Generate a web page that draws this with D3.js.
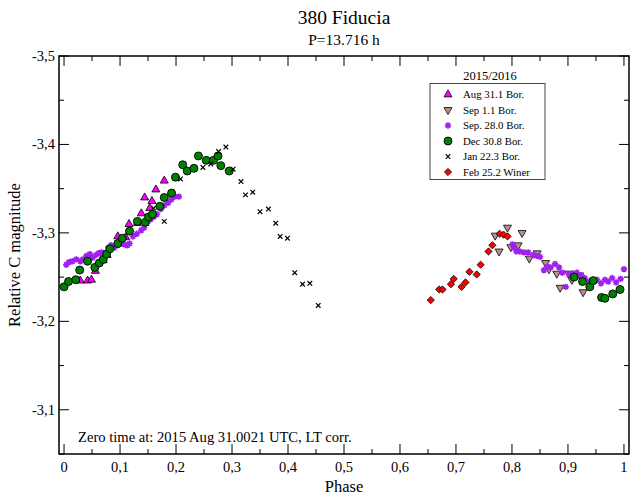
<!DOCTYPE html>
<html>
<head>
<meta charset="utf-8">
<script src="https://cdn.jsdelivr.net/npm/d3@7"></script>
<style>
  body { margin: 0; background: #fff; }
  svg { font-family: "Liberation Serif", "DejaVu Serif", serif; }
</style>
</head>
<body>
<div id="chart"></div>
<script>
// phase / relative magnitude pairs
const aug31 = [[0.029,-3.246],[0.042,-3.246],[0.049,-3.247],[0.056,-3.257],[0.070,-3.269],[0.077,-3.275],
  [0.096,-3.296],[0.110,-3.295],[0.116,-3.310],[0.131,-3.311],[0.138,-3.322],[0.144,-3.340],[0.153,-3.328],
  [0.157,-3.336],[0.164,-3.349],[0.179,-3.359]];
const sep1 = [[0.770,-3.297],[0.777,-3.279],[0.792,-3.306],[0.798,-3.284],[0.811,-3.286],[0.818,-3.300],
  [0.831,-3.271],[0.845,-3.277],[0.860,-3.266],[0.866,-3.259],[0.880,-3.254],[0.886,-3.238],[0.901,-3.254],
  [0.907,-3.247],[0.921,-3.252],[0.927,-3.233]];
const sep28 = [[0.004,-3.264],[0.009,-3.267],[0.015,-3.268],[0.022,-3.270],[0.029,-3.268],[0.034,-3.270],
  [0.040,-3.274],[0.046,-3.276],[0.051,-3.272],[0.057,-3.275],[0.062,-3.277],[0.067,-3.278],[0.072,-3.277],
  [0.079,-3.283],[0.084,-3.286],[0.089,-3.283],[0.095,-3.286],[0.101,-3.288],[0.107,-3.287],[0.113,-3.286],
  [0.117,-3.288],[0.123,-3.296],[0.130,-3.299],[0.138,-3.303],[0.143,-3.306],[0.148,-3.311],[0.154,-3.315],
  [0.160,-3.318],[0.166,-3.321],[0.173,-3.327],[0.179,-3.331],[0.186,-3.334],[0.192,-3.338],[0.198,-3.341],
  [0.205,-3.341],
  [0.801,-3.287],[0.804,-3.283],[0.808,-3.279],[0.814,-3.279],[0.821,-3.278],[0.829,-3.278],[0.838,-3.275],
  [0.844,-3.274],[0.850,-3.273],[0.857,-3.258],[0.863,-3.262],[0.869,-3.261],[0.877,-3.265],[0.884,-3.261],
  [0.890,-3.255],[0.896,-3.239],[0.902,-3.253],[0.909,-3.254],[0.916,-3.255],[0.923,-3.252],[0.930,-3.249],
  [0.938,-3.245],[0.945,-3.247],[0.952,-3.247],[0.959,-3.243],[0.966,-3.247],[0.972,-3.245],[0.979,-3.249],
  [0.986,-3.244],[0.994,-3.248],[1.000,-3.259]];
const dec30 = [[0.000,-3.239],[0.008,-3.245],[0.021,-3.247],[0.028,-3.258],[0.042,-3.268],[0.055,-3.261],
  [0.063,-3.266],[0.070,-3.270],[0.076,-3.276],[0.082,-3.282],[0.096,-3.288],[0.104,-3.294],[0.117,-3.302],
  [0.131,-3.313],[0.145,-3.312],[0.151,-3.318],[0.158,-3.321],[0.171,-3.330],[0.179,-3.340],[0.192,-3.345],
  [0.199,-3.363],[0.212,-3.377],[0.220,-3.370],[0.232,-3.373],[0.240,-3.387],[0.254,-3.382],[0.267,-3.382],
  [0.275,-3.387],[0.280,-3.376],[0.295,-3.370],
  [0.911,-3.250],[0.926,-3.245],[0.939,-3.239],[0.945,-3.246],[0.960,-3.227],[0.966,-3.226],[0.980,-3.231],
  [0.993,-3.236]];
const jan22 = [[0.160,-3.328],[0.179,-3.313],[0.208,-3.361],[0.248,-3.374],[0.262,-3.378],[0.276,-3.392],
  [0.289,-3.397],[0.302,-3.372],[0.316,-3.358],[0.324,-3.343],[0.337,-3.346],[0.350,-3.324],[0.365,-3.327],
  [0.378,-3.311],[0.386,-3.296],[0.399,-3.294],[0.412,-3.255],[0.426,-3.242],[0.439,-3.243],[0.454,-3.218]];
const feb25 = [[0.655,-3.224],[0.670,-3.236],[0.676,-3.236],[0.691,-3.242],[0.696,-3.248],[0.710,-3.239],
  [0.717,-3.244],[0.724,-3.256],[0.737,-3.253],[0.744,-3.264],[0.758,-3.279],[0.765,-3.286],[0.778,-3.299],
  [0.785,-3.298],[0.792,-3.296]];

const seriesNames = ["Aug 31.1 Bor.", "Sep 1.1 Bor.", "Sep. 28.0 Bor.", "Dec 30.8 Bor.", "Jan 22.3 Bor.", "Feb 25.2 Winer"];
const xTicks = [0, 0.1, 0.2, 0.3, 0.4, 0.5, 0.6, 0.7, 0.8, 0.9, 1];
const yTicks = [-3.5, -3.4, -3.3, -3.2, -3.1];

const width = 630, height = 497;
const svg = d3.select("#chart").append("svg").attr("width", width).attr("height", height);

// y is magnitude, brighter (more negative) at the top
const x = d3.scaleLinear().domain([-0.009, 1.009]).range([59, 629]);
const y = d3.scaleLinear().domain([-3.5, -3.05]).range([56, 454]);
const [x0, x1] = x.range(), [y0, y1] = y.range();

// comma decimals and a plain hyphen, as in the original
const comma = v => (v === 0 || v === 1) ? String(v) : v.toFixed(1).replace(".", ",");

// marker shapes
const shapes = {
  up: "M0,-4.6L4,2.4L-4,2.4Z",
  down: "M0,4.6L4,-2.4L-4,-2.4Z",
  star: "M-3.2,0L3.2,0M0,-3.2L0,3.2M-2.3,-2.3L2.3,2.3M-2.3,2.3L2.3,-2.3",
  cross: "M-2.3,-2.3L2.3,2.3M-2.3,2.3L2.3,-2.3",
  diamond: "M0,-3.6L3.6,0L0,3.6L-3.6,0Z"
};
const styles = [
  {data: aug31, kind: "path", d: shapes.up, fill: "#ff00ff", stroke: "#000", sw: 0.8},
  {data: sep1, kind: "path", d: shapes.down, fill: "#bc8f8f", stroke: "#000", sw: 0.8},
  {data: sep28, kind: "path", d: shapes.star, fill: "none", stroke: "#a020f0", sw: 1.6},
  {data: dec30, kind: "circle", fill: "#008000", stroke: "#000", sw: 0.9},
  {data: jan22, kind: "path", d: shapes.cross, fill: "none", stroke: "#000", sw: 1.2},
  {data: feb25, kind: "path", d: shapes.diamond, fill: "#ff0000", stroke: "#000", sw: 0.8}
];

function drawMarker(g, s) {
  if (s.kind === "circle") {
    return g.append("circle").attr("r", 4).attr("fill", s.fill).attr("stroke", s.stroke).attr("stroke-width", s.sw);
  }
  return g.append("path").attr("d", s.d).attr("fill", s.fill).attr("stroke", s.stroke).attr("stroke-width", s.sw);
}

// points
styles.forEach(s => {
  const grp = svg.append("g");
  s.data.forEach(p => {
    const m = grp.append("g").attr("transform", `translate(${x(p[0])},${y(p[1])})`);
    drawMarker(m, s);
  });
});

// frame
svg.append("rect").attr("x", x0).attr("y", y0).attr("width", x1 - x0).attr("height", y1 - y0)
  .attr("fill", "none").attr("stroke", "#000").attr("stroke-width", 1.5);

// ticks pointing inward on all four sides
const ticks = svg.append("g").attr("stroke", "#000").attr("stroke-width", 1);
d3.range(0, 1.0001, 0.05).forEach((t, i) => {
  const len = i % 2 === 0 ? 10 : 5;
  ticks.append("line").attr("x1", x(t)).attr("x2", x(t)).attr("y1", y1).attr("y2", y1 - len);
  ticks.append("line").attr("x1", x(t)).attr("x2", x(t)).attr("y1", y0).attr("y2", y0 + len);
});
d3.range(-3.5, -3.049, 0.05).forEach((t, i) => {
  const len = i % 2 === 0 ? 10 : 5;
  ticks.append("line").attr("y1", y(t)).attr("y2", y(t)).attr("x1", x0).attr("x2", x0 + len);
  ticks.append("line").attr("y1", y(t)).attr("y2", y(t)).attr("x1", x1).attr("x2", x1 - len);
});

// tick labels
svg.append("g").selectAll("text").data(xTicks).join("text")
  .attr("x", d => x(d)).attr("y", 472).attr("text-anchor", "middle")
  .attr("font-size", 14.5).text(comma);
svg.append("g").selectAll("text").data(yTicks).join("text")
  .attr("x", 55).attr("y", d => y(d) + 5).attr("text-anchor", "end")
  .attr("font-size", 14.5).text(comma);

// titles
svg.append("text").attr("x", (x0 + x1) / 2).attr("y", 24).attr("text-anchor", "middle")
  .attr("font-size", 19.5).text("380 Fiducia");
svg.append("text").attr("x", (x0 + x1) / 2).attr("y", 45).attr("text-anchor", "middle")
  .attr("font-size", 15.5).text("P=13.716 h");
svg.append("text").attr("x", (x0 + x1) / 2).attr("y", 492).attr("text-anchor", "middle")
  .attr("font-size", 16.5).text("Phase");
svg.append("text").attr("transform", `translate(20,${(y0 + y1) / 2}) rotate(-90)`)
  .attr("text-anchor", "middle").attr("font-size", 16.5).text("Relative C magnitude");
svg.append("text").attr("x", 78).attr("y", 442).attr("font-size", 14.6)
  .text("Zero time at: 2015 Aug 31.0021 UTC, LT corr.");

// legend
const leg = svg.append("g");
leg.append("text").attr("x", 490).attr("y", 80).attr("text-anchor", "middle")
  .attr("font-size", 12.5).text("2015/2016");
leg.append("rect").attr("x", 430).attr("y", 83.5).attr("width", 115).attr("height", 96)
  .attr("fill", "#fff").attr("stroke", "#444").attr("stroke-width", 1);
seriesNames.forEach((name, i) => {
  const cy = 94.5 + i * 15.5;
  const m = leg.append("g").attr("transform", `translate(448,${cy})`);
  drawMarker(m, styles[i]);
  leg.append("text").attr("x", 463).attr("y", cy + 3.5).attr("font-size", 10.8).text(name);
});
</script>
</body>
</html>
